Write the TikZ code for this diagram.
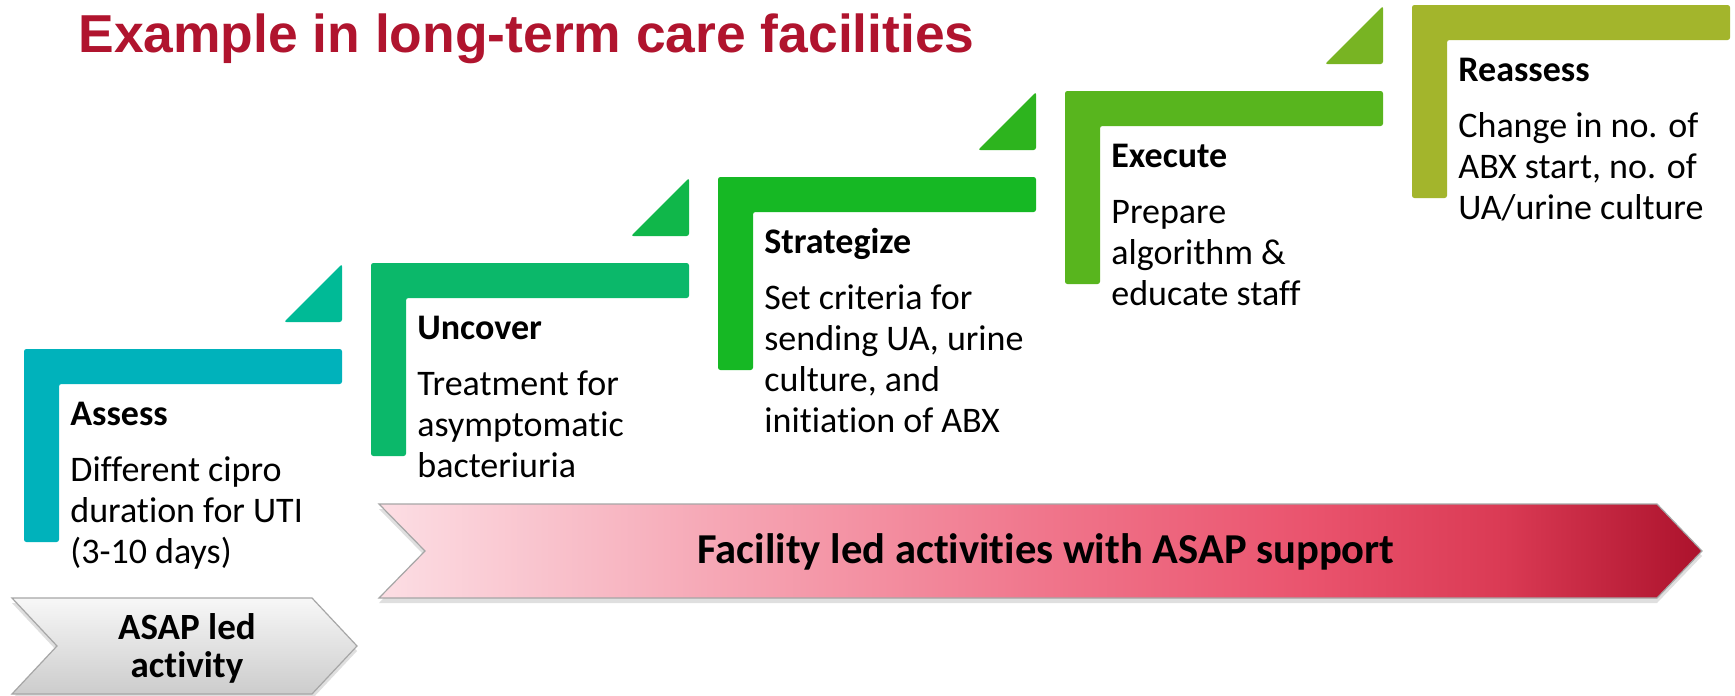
\documentclass[tikz,border=0pt]{standalone}
\usepackage{fontspec}
\setmainfont{Carlito}[Ligatures={NoCommon,NoContextual,NoRequired},Contextuals=NoAlternate]
\newfontfamily\titlefont{Liberation Sans}
\usetikzlibrary{shadows}

\definecolor{titlered}{RGB}{176,20,46}
\definecolor{cAssess}{RGB}{0,178,187}
\definecolor{tAssess}{RGB}{0,186,150}
\definecolor{cUncover}{RGB}{11,184,106}
\definecolor{tUncover}{RGB}{16,183,74}
\definecolor{cStrat}{RGB}{22,184,36}
\definecolor{tStrat}{RGB}{45,180,30}
\definecolor{cExec}{RGB}{88,181,30}
\definecolor{tExec}{RGB}{120,180,35}
\definecolor{cReass}{RGB}{163,181,44}
\definecolor{faA}{RGB}{252,222,228}
\definecolor{faB}{RGB}{246,168,182}
\definecolor{faC}{RGB}{240,118,140}
\definecolor{faD}{RGB}{234,84,110}
\definecolor{faE}{RGB}{218,58,84}
\definecolor{faF}{RGB}{172,18,44}

\pgfdeclarehorizontalshading{facshade}{100bp}{%
  color(0bp)=(faA); color(25bp)=(faA); color(37.5bp)=(faB);
  color(50bp)=(faC); color(60bp)=(faD); color(67.5bp)=(faE);
  color(75bp)=(faF); color(100bp)=(faF)}

\tikzset{
  % one pixel of the layout grid, y running downwards
  x=0.5pt, y=-0.5pt,
  elbow/.pic={\fill[rounded corners=1.2pt] (0,0) -- (318,0) -- (318,35)
      -- (35,35) -- (35,193) -- (0,193) -- cycle;},
  wedge/.pic={\fill[rounded corners=1.2pt] (318,-27) -- (318,-85)
      -- (260,-27) -- cycle;},
  heading/.style={anchor=base west, inner sep=0pt,
      font=\fontsize{18}{20.5}\selectfont\bfseries},
  % multi-line text: the base anchor sits on the last line
  bodytext/.style={anchor=base west, inner sep=0pt, align=left,
      font=\fontsize{18}{20.5}\selectfont},
  banner/.style={draw=gray!70, line width=0.6pt,
      drop shadow={shadow xshift=0pt, shadow yshift=-2.5pt, opacity=0.25}},
}

\begin{document}
\begin{tikzpicture}
\useasboundingbox[fill=white] (0,0) rectangle (1735,696);

% title
\node[anchor=base west, inner sep=0pt, text=titlered,
      font=\titlefont\bfseries\fontsize{26.7}{30}\selectfont]
  (title) at (78,52) {Example in long-term care facilities};

% staircase of steps
\pic[color=cAssess]  at (24,349)   {elbow};
\pic[color=tAssess]  at (24,349)   {wedge};
\pic[color=cUncover] at (371,263)  {elbow};
\pic[color=tUncover] at (371,263)  {wedge};
\pic[color=cStrat]   at (718,177)  {elbow};
\pic[color=tStrat]   at (718,177)  {wedge};
\pic[color=cExec]    at (1065,91)  {elbow};
\pic[color=tExec]    at (1065,91)  {wedge};
\pic[color=cReass]   at (1412,5)   {elbow};

\node[heading]  (h1) at (70,425)   {Assess};
\node[bodytext] (b1) at (70,563)   {Different cipro\\duration for UTI\\(3-10 days)};
\node[heading]  (h2) at (417,339)  {Uncover};
\node[bodytext] (b2) at (417,477)  {Treatment for\\asymptomatic\\bacteriuria};
\node[heading]  (h3) at (764,253)  {Strategize};
\node[bodytext] (b3) at (764,432)  {Set criteria for\\sending UA, urine\\culture, and\\initiation of ABX};
\node[heading]  (h4) at (1111,167) {Execute};
\node[bodytext] (b4) at (1111,305) {Prepare\\algorithm \&\\educate staff};
\node[heading]  (h5) at (1458,81)  {Reassess};
\node[bodytext] (b5) at (1458,219) {Change in no. of\\ABX start, no. of\\UA/urine culture};

% lead banners
\path[banner, shading=facshade]
  (379,504) -- (1657,504) -- (1702,551) -- (1657,598) -- (379,598) -- (425,551) -- cycle;
\node[anchor=base, inner sep=0pt, font=\fontsize{21.3}{24}\selectfont\bfseries]
  (fac) at (1046,563) {Facility led activities with ASAP support};

\path[banner, top color=gray!6, bottom color=gray!40]
  (12,598) -- (312,598) -- (357,646) -- (312,694) -- (12,694) -- (57,646) -- cycle;
\node[align=center, font=\fontsize{18.5}{19}\selectfont\bfseries] (asap) at (187,648)
  {ASAP led\\activity};
\end{tikzpicture}
\end{document}
